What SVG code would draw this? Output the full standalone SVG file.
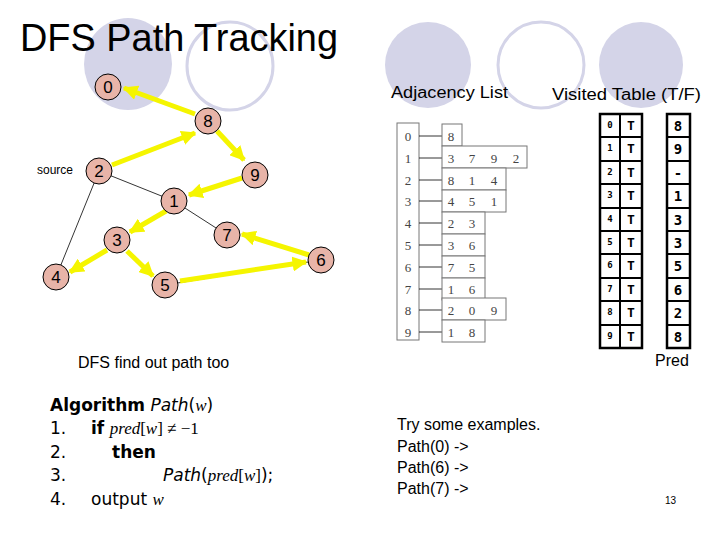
<svg xmlns="http://www.w3.org/2000/svg" width="720" height="540" viewBox="0 0 720 540">
<defs>
<style>
.bgf{fill:#d4d4e8}
.bgo{fill:none;stroke:#d4d4e8;stroke-width:3}
.nd circle{fill:#e8b4a8;stroke:#000;stroke-width:1}
.nd text{font-family:"Liberation Sans",Arial,sans-serif;font-size:17px;text-anchor:middle}
.y{stroke:#f5f500;stroke-width:5;fill:none;marker-end:url(#ah)}
.k{stroke:#000;stroke-width:0.8;fill:none}
.t{font-family:"Liberation Sans",Arial,sans-serif}
.ser{font-family:"Liberation Serif","Times New Roman",serif;font-size:13px;fill:#444;text-anchor:middle}
.cell{fill:#fff;stroke:#777;stroke-width:1}
.vt{fill:#fff;stroke:#000;stroke-width:2.5}
.mono{font-family:"DejaVu Sans Mono",monospace;font-weight:bold;text-anchor:middle}
</style>
<marker id="ah" viewBox="0 0 10 10" refX="9" refY="5" markerWidth="3" markerHeight="3" orient="auto"><path d="M0,0L10,5L0,10z" fill="#f5f500"/></marker>
</defs>
<rect width="720" height="540" fill="#fff"/>
<g id="decor">
<ellipse class="bgf" cx="128" cy="64" rx="44" ry="46"/>
<ellipse class="bgo" cx="230" cy="66" rx="43" ry="44"/>
<ellipse class="bgf" cx="428" cy="65" rx="43" ry="43"/>
<ellipse class="bgo" cx="541" cy="65" rx="43" ry="43"/>
<ellipse class="bgf" cx="641" cy="65" rx="42" ry="43"/>
</g>
<text class="t" x="20" y="51" font-size="38" textLength="318" lengthAdjust="spacingAndGlyphs">DFS Path Tracking</text>
<g id="connectors">
<line class="k" x1="99" y1="171" x2="174" y2="201"/>
<line class="k" x1="174" y1="201" x2="227" y2="235"/>
<line class="k" x1="99" y1="171" x2="56" y2="277"/>
<line class="k" x1="165" y1="285" x2="321" y2="260"/>
<line class="y" x1="195" y1="114" x2="124" y2="88"/>
<line class="y" x1="112" y1="165" x2="195" y2="133"/>
<line class="y" x1="217" y1="131" x2="244" y2="160"/>
<line class="y" x1="242" y1="178" x2="189" y2="195"/>
<line class="y" x1="166" y1="211" x2="130" y2="232"/>
<line class="y" x1="107" y1="250" x2="70" y2="272"/>
<line class="y" x1="127" y1="251" x2="153" y2="276"/>
<line class="y" x1="180" y1="281" x2="306" y2="262"/>
<line class="y" x1="309" y1="255" x2="242" y2="234"/>
</g>
<g id="n0" class="nd"><circle cx="108" cy="87" r="13"/><text x="108" y="93">0</text></g>
<g id="n8" class="nd"><circle cx="208" cy="121" r="13"/><text x="208" y="127">8</text></g>
<g id="n2" class="nd"><circle cx="99" cy="171" r="13"/><text x="99" y="177">2</text></g>
<g id="n9" class="nd"><circle cx="255" cy="175" r="13"/><text x="255" y="181">9</text></g>
<g id="n1" class="nd"><circle cx="174" cy="201" r="13"/><text x="174" y="207">1</text></g>
<g id="n7" class="nd"><circle cx="227" cy="235" r="13"/><text x="227" y="241">7</text></g>
<g id="n3" class="nd"><circle cx="117" cy="240" r="13"/><text x="117" y="246">3</text></g>
<g id="n6" class="nd"><circle cx="321" cy="260" r="13"/><text x="321" y="266">6</text></g>
<g id="n4" class="nd"><circle cx="56" cy="277" r="13"/><text x="56" y="283">4</text></g>
<g id="n5" class="nd"><circle cx="165" cy="285" r="13"/><text x="165" y="291">5</text></g>
<text class="t" x="37" y="174" font-size="12">source</text>
<text class="t" x="391" y="98" font-size="16" textLength="117" lengthAdjust="spacingAndGlyphs">Adjacency List</text>
<text class="t" x="552" y="100" font-size="16" textLength="149" lengthAdjust="spacingAndGlyphs">Visited Table (T/F)</text>
<g id="adj">
<rect class="cell" x="397" y="123" width="22" height="217"/>
<g class="k">
<line x1="419" y1="136" x2="442" y2="136"/><line x1="419" y1="158" x2="442" y2="158"/><line x1="419" y1="180" x2="442" y2="180"/><line x1="419" y1="201" x2="442" y2="201"/><line x1="419" y1="223" x2="442" y2="223"/><line x1="419" y1="245" x2="442" y2="245"/><line x1="419" y1="267" x2="442" y2="267"/><line x1="419" y1="289" x2="442" y2="289"/><line x1="419" y1="310" x2="442" y2="310"/><line x1="419" y1="332" x2="442" y2="332"/>
</g>
<rect class="cell" x="442" y="124" width="20" height="22"/>
<rect class="cell" x="442" y="146" width="85" height="22"/>
<rect class="cell" x="442" y="168" width="64" height="22"/>
<rect class="cell" x="442" y="190" width="64" height="22"/>
<rect class="cell" x="442" y="212" width="43" height="22"/>
<rect class="cell" x="442" y="234" width="43" height="22"/>
<rect class="cell" x="442" y="256" width="43" height="22"/>
<rect class="cell" x="442" y="278" width="43" height="22"/>
<rect class="cell" x="442" y="298" width="64" height="22"/>
<rect class="cell" x="442" y="320" width="43" height="22"/>
<g class="ser">
<text x="408" y="141">0</text><text x="408" y="163">1</text><text x="408" y="185">2</text><text x="408" y="206">3</text><text x="408" y="228">4</text><text x="408" y="250">5</text><text x="408" y="272">6</text><text x="408" y="294">7</text><text x="408" y="315">8</text><text x="408" y="337">9</text>
<text x="451" y="141">8</text>
<text x="451" y="163">3</text><text x="472" y="163">7</text><text x="494" y="163">9</text><text x="516" y="163">2</text>
<text x="451" y="185">8</text><text x="472" y="185">1</text><text x="494" y="185">4</text>
<text x="451" y="206">4</text><text x="472" y="206">5</text><text x="494" y="206">1</text>
<text x="451" y="228">2</text><text x="472" y="228">3</text>
<text x="451" y="250">3</text><text x="472" y="250">6</text>
<text x="451" y="272">7</text><text x="472" y="272">5</text>
<text x="451" y="294">1</text><text x="472" y="294">6</text>
<text x="451" y="315">2</text><text x="472" y="315">0</text><text x="494" y="315">9</text>
<text x="451" y="337">1</text><text x="472" y="337">8</text>
</g>
</g>
<g id="visited">
<rect class="vt" x="600" y="114" width="42" height="234"/>
<line x1="620" y1="114" x2="620" y2="348" stroke="#000" stroke-width="2"/>
<rect class="vt" x="667" y="114" width="23" height="234"/>
<g stroke="#000" stroke-width="2">
<line x1="600" y1="137" x2="642" y2="137"/><line x1="600" y1="161" x2="642" y2="161"/><line x1="600" y1="184" x2="642" y2="184"/><line x1="600" y1="208" x2="642" y2="208"/><line x1="600" y1="231" x2="642" y2="231"/><line x1="600" y1="254" x2="642" y2="254"/><line x1="600" y1="278" x2="642" y2="278"/><line x1="600" y1="301" x2="642" y2="301"/><line x1="600" y1="325" x2="642" y2="325"/>
<line x1="667" y1="137" x2="690" y2="137"/><line x1="667" y1="161" x2="690" y2="161"/><line x1="667" y1="184" x2="690" y2="184"/><line x1="667" y1="208" x2="690" y2="208"/><line x1="667" y1="231" x2="690" y2="231"/><line x1="667" y1="254" x2="690" y2="254"/><line x1="667" y1="278" x2="690" y2="278"/><line x1="667" y1="301" x2="690" y2="301"/><line x1="667" y1="325" x2="690" y2="325"/>
</g>
<g class="mono" font-size="9">
<text x="610" y="128">0</text><text x="610" y="151">1</text><text x="610" y="175">2</text><text x="610" y="198">3</text><text x="610" y="222">4</text><text x="610" y="245">5</text><text x="610" y="268">6</text><text x="610" y="292">7</text><text x="610" y="315">8</text><text x="610" y="339">9</text>
</g>
<g class="mono" font-size="13">
<text x="631" y="130">T</text><text x="631" y="153">T</text><text x="631" y="177">T</text><text x="631" y="200">T</text><text x="631" y="224">T</text><text x="631" y="247">T</text><text x="631" y="270">T</text><text x="631" y="294">T</text><text x="631" y="317">T</text><text x="631" y="341">T</text>
</g>
<g class="mono" font-size="14">
<text x="678" y="131">8</text><text x="678" y="154">9</text><text x="678" y="178">-</text><text x="678" y="201">1</text><text x="678" y="225">3</text><text x="678" y="248">3</text><text x="678" y="271">5</text><text x="678" y="295">6</text><text x="678" y="318">2</text><text x="678" y="342">8</text>
</g>
</g>
<text class="t" x="655" y="366" font-size="16">Pred</text>
<text class="t" x="78" y="368" font-size="16">DFS find out path too</text>
<g id="algo" font-family="'DejaVu Sans',sans-serif" font-size="17">
<text x="50" y="411"><tspan font-weight="bold">Algorithm</tspan> <tspan font-style="italic">Path</tspan>(<tspan font-family="'Liberation Serif',serif" font-style="italic">w</tspan>)</text>
<text x="50" y="434">1.</text>
<text x="91" y="434"><tspan font-weight="bold">if</tspan> <tspan font-family="'Liberation Serif',serif" font-style="italic">pred</tspan><tspan font-family="'Liberation Serif',serif">[</tspan><tspan font-family="'Liberation Serif',serif" font-style="italic">w</tspan><tspan font-family="'Liberation Serif',serif">] ≠ −1</tspan></text>
<text x="50" y="458">2.</text>
<text x="112" y="458" font-weight="bold">then</text>
<text x="50" y="481">3.</text>
<text x="163" y="481"><tspan font-style="italic">Path</tspan>(<tspan font-family="'Liberation Serif',serif" font-style="italic">pred</tspan><tspan font-family="'Liberation Serif',serif">[</tspan><tspan font-family="'Liberation Serif',serif" font-style="italic">w</tspan><tspan font-family="'Liberation Serif',serif">]</tspan>);</text>
<text x="50" y="505">4.</text>
<text x="91" y="505">output <tspan font-family="'Liberation Serif',serif" font-style="italic">w</tspan></text>
</g>
<g class="t" font-size="16">
<text x="397" y="430">Try some examples.</text>
<text x="397" y="452">Path(0) -&gt;</text>
<text x="397" y="473">Path(6) -&gt;</text>
<text x="397" y="494">Path(7) -&gt;</text>
</g>
<text class="t" x="665" y="504" font-size="10">13</text>
</svg>
